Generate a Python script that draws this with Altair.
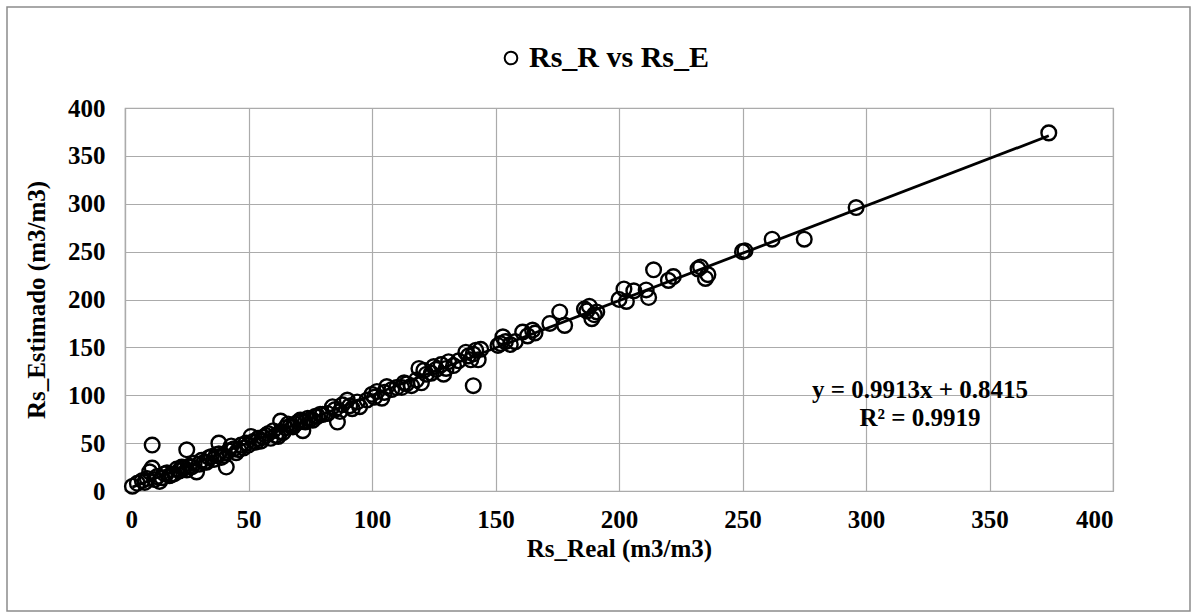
import altair as alt
import pandas as pd

rs_real = [3, 5, 7, 8, 9, 10, 11, 11, 12, 13, 14, 15, 16, 17, 18, 19, 20, 21, 22, 23, 24, 25, 25, 26, 27,
           28, 29, 30, 31, 32, 33, 34, 35, 36, 37, 38, 38, 39, 40, 41, 42, 43, 44, 45, 46, 47, 48, 49, 50, 51,
           52, 53, 54, 55, 56, 57, 58, 59, 60, 61, 62, 63, 63, 64, 65, 66, 67, 68, 69, 70, 71, 72, 72, 73, 74,
           75, 76, 77, 78, 79, 80, 82, 84, 85, 86, 87, 88, 90, 91, 92, 94, 95, 98, 100, 101, 102, 104, 105, 106,
           108, 110, 112, 113, 114, 116, 118, 119, 120, 121, 122, 124, 125, 126, 128, 129, 130, 131, 133, 135,
           138, 139, 140, 141, 141, 142, 143, 144, 151, 152, 153, 154, 156, 158, 161, 163, 165, 166, 172, 176,
           178, 186, 187, 188, 189, 190, 191, 200, 202, 203, 206, 211, 212, 214, 220, 222, 232, 233, 235, 236,
           250, 251, 262, 275, 296, 374]
rs_estimado = [5, 8, 11, 9, 13, 20, 24, 48, 12, 15, 10, 14, 18, 19, 16, 17, 18, 23, 21, 25, 24, 43, 22, 26, 25,
               29, 20, 28, 32, 30, 30, 35, 36, 33, 38, 39, 50, 35, 37, 25, 42, 47, 44, 40, 43, 48, 45, 50, 48, 57,
               52, 51, 55, 52, 56, 58, 60, 55, 63, 58, 57, 73, 62, 61, 66, 70, 68, 67, 70, 72, 74, 63, 73, 72, 76,
               75, 74, 78, 78, 80, 80, 81, 88, 85, 72, 83, 90, 95, 89, 86, 93, 88, 95, 101, 98, 104, 97, 103, 109,
               106, 108, 108, 113, 112, 110, 116, 128, 113, 126, 122, 123, 130, 127, 132, 122, 128, 135, 131, 136,
               145, 141, 137, 143, 110, 147, 137, 148, 152, 154, 161, 156, 153, 156, 166, 162, 168, 165, 175, 187,
               173, 190, 188, 193, 180, 184, 187, 200, 211, 198, 209, 210, 202, 231, 220, 224, 232, 234, 222, 226,
               250, 251, 263, 263, 296, 374]

series_name = ["Rs_R vs Rs_E"] * len(rs_real)
x_ticks = [0, 50, 100, 150, 200, 250, 300, 350, 400]
y_ticks = [0, 50, 100, 150, 200, 250, 300, 350, 400]
equation_line1 = "y = 0.9913x + 0.8415"
equation_line2 = "R² = 0.9919"

df = pd.DataFrame({"real": rs_real, "est": rs_estimado, "serie": series_name})
one_row = pd.DataFrame({"k": [0]})

FONT = "Liberation Serif"
GRID = "#ababab"

x_enc = alt.X("real:Q", scale=alt.Scale(domain=[0, 400], nice=False),
              axis=alt.Axis(values=x_ticks, title="Rs_Real (m3/m3)"))
y_enc = alt.Y("est:Q", scale=alt.Scale(domain=[0, 400], nice=False),
              axis=alt.Axis(values=y_ticks, title="Rs_Estimado (m3/m3)"))

points = alt.Chart(df).mark_point(
    shape="circle", size=215, strokeWidth=2.4, filled=False, opacity=1
).encode(
    x=x_enc, y=y_enc,
    color=alt.Color("serie:N", scale=alt.Scale(range=["black"]),
                    legend=alt.Legend(title=None, orient="none", legendX=371, legendY=-65,
                                      labelFont=FONT, labelFontSize=30, labelFontWeight="bold",
                                      labelColor="black", labelLimit=0, symbolType="circle",
                                      symbolSize=160, symbolStrokeWidth=2, symbolFillColor="white",
                                      symbolStrokeColor="black", labelOffset=3))
)

trend = alt.Chart(df).transform_regression(
    "real", "est", method="linear", extent=[3, 374]
).mark_line(color="black", strokeWidth=2.8).encode(
    x="real:Q", y="est:Q"
)

eq1 = alt.Chart(one_row).mark_text(
    font=FONT, fontSize=25, fontWeight="bold", color="black", align="center", baseline="middle",
    text=equation_line1
).encode(x=alt.value(795), y=alt.value(282))

eq2 = alt.Chart(one_row).mark_text(
    font=FONT, fontSize=25, fontWeight="bold", color="black", align="center", baseline="middle",
    text=equation_line2
).encode(x=alt.value(795), y=alt.value(310))

border = alt.Chart(one_row).mark_rect(
    fill=None, stroke="#8c8c8c", strokeWidth=1.5, clip=False
).encode(
    x=alt.value(-118), x2=alt.value(1065), y=alt.value(-101), y2=alt.value(503)
)

chart = alt.layer(border, points, trend, eq1, eq2).properties(
    width=988, height=383,
    autosize=alt.AutoSizeParams(type="none"),
    padding={"left": 125, "top": 108, "right": 84, "bottom": 125},
    background="white"
).configure_view(
    stroke=GRID, strokeWidth=1.2
).configure_axis(
    labelFont=FONT, labelFontSize=25, labelFontWeight="bold", labelColor="black",
    titleFont=FONT, titleFontSize=25, titleFontWeight="bold", titleColor="black",
    grid=True, gridColor=GRID, gridWidth=1.2, domainColor=GRID, domainWidth=1.2,
    ticks=False
).configure_axisX(
    labelPadding=16, titlePadding=4
).configure_axisY(
    labelPadding=20, titlePadding=18
)

chart.save("out.html", embed_options={"renderer": "svg", "actions": False})
